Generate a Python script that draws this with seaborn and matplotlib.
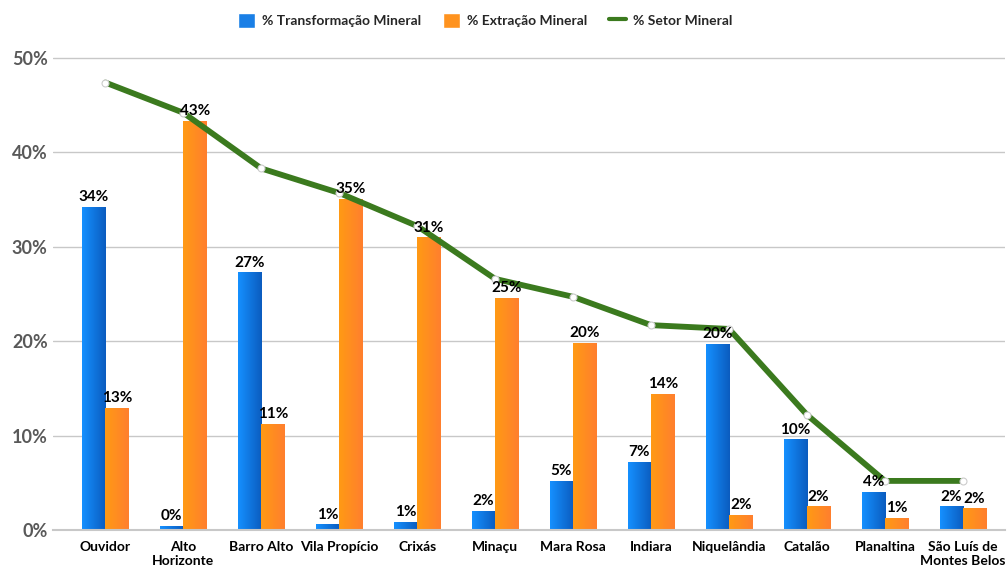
import numpy as np
import pandas as pd
import seaborn as sns
from matplotlib import pyplot as plt
from matplotlib.lines import Line2D
from matplotlib.patches import Patch
from matplotlib.colors import LinearSegmentedColormap

municipios = ["Ouvidor", "Alto\nHorizonte", "Barro Alto", "Vila Propício", "Crixás", "Minaçu",
              "Mara Rosa", "Indiara", "Niquelândia", "Catalão", "Planaltina", "São Luís de\nMontes Belos"]
transformacao = [34.2, 0.4, 27.3, 0.6, 0.9, 2.0, 5.2, 7.2, 19.7, 9.6, 4.0, 2.5]
extracao = [12.9, 43.3, 11.2, 35.1, 31.0, 24.6, 19.8, 14.4, 1.6, 2.5, 1.3, 2.3]
setor = [47.4, 44.2, 38.3, 35.7, 32.2, 26.6, 24.7, 21.7, 21.3, 12.2, 5.2, 5.2]

S_TRANSF = "% Transformação Mineral"
S_EXTR = "% Extração Mineral"
S_SETOR = "% Setor Mineral"

data = pd.DataFrame({
    "Município": municipios * 2,
    "Valor": transformacao + extracao,
    "Série": [S_TRANSF] * len(municipios) + [S_EXTR] * len(municipios),
})

sns.set_style("white")
plt.rcParams["font.family"] = ["Lato", "DejaVu Sans"]

fig = plt.figure(figsize=(10.07, 5.68), dpi=100)
ax = fig.add_axes([0.053, 0.0669, 0.945, 0.8486])

palette = {S_TRANSF: "#1a7fe6", S_EXTR: "#ff931f"}
sns.barplot(data=data, x="Município", y="Valor", hue="Série", palette=palette,
            width=0.6, ax=ax, legend=False, saturation=1)

x = np.arange(len(municipios))
ax.plot(x, setor, color="#3b7a1e", lw=4.2, zorder=4, solid_capstyle="round")
ax.plot(x, setor, ls="none", marker="o", ms=5, mfc="white", mec="#cccccc", mew=0.8, zorder=5)

# gradient fill on the bars
gradients = [("#1590ff", "#0b5cbf"), ("#ff9a14", "#ff7f2e")]
for container, (c0, c1) in zip(ax.containers, gradients):
    cmap = LinearSegmentedColormap.from_list("g", [c0, c1])
    for bar in container:
        x0, y0 = bar.get_x(), bar.get_y()
        w, h = bar.get_width(), bar.get_height()
        im = ax.imshow(np.linspace(0, 1, 64).reshape(1, -1), cmap=cmap, aspect="auto",
                       extent=[x0, x0 + w, y0, y0 + h], zorder=2)
        im.set_clip_path(bar)
        bar.set_alpha(0)
    labels = [f"{v:.0f}%" for v in container.datavalues]
    texts = ax.bar_label(container, labels=labels, padding=2, fontsize=11,
                         fontweight="bold", color="black")
    for t in texts:
        t.set_zorder(6)

ax.set_xlim(-0.667, 11.54)
ax.set_ylim(0, 51.06)
ax.set_yticks([0, 10, 20, 30, 40, 50])
ax.set_yticklabels([f"{t}%" for t in [0, 10, 20, 30, 40, 50]], fontsize=13,
                   fontweight="bold", color="#595959")
ax.tick_params(axis="y", length=0, pad=4)
ax.tick_params(axis="x", length=0, pad=8)
for lbl in ax.get_xticklabels():
    lbl.set_fontsize(10)
    lbl.set_fontweight("bold")
    lbl.set_color("black")
ax.set_xlabel("")
ax.set_ylabel("")
ax.yaxis.grid(True, color="#c8c8c8", lw=1)
ax.set_axisbelow(True)
for side in ["left", "right", "top"]:
    ax.spines[side].set_visible(False)
ax.spines["bottom"].set_color("#c8c8c8")
ax.spines["bottom"].set_linewidth(1.5)

handles = [
    Patch(facecolor="#1a7fe6", label=S_TRANSF),
    Patch(facecolor="#ff931f", label=S_EXTR),
    Line2D([0], [0], color="#3b7a1e", lw=3, label=S_SETOR),
]
leg = fig.legend(handles=handles, loc="upper center", bbox_to_anchor=(0.482, 1.0), ncol=3,
                 frameon=False, handlelength=1.2, handleheight=1.3, columnspacing=1.6,
                 handletextpad=0.5, fontsize=10)
for t in leg.get_texts():
    t.set_fontweight("bold")

fig.savefig("out.png", dpi=100)
